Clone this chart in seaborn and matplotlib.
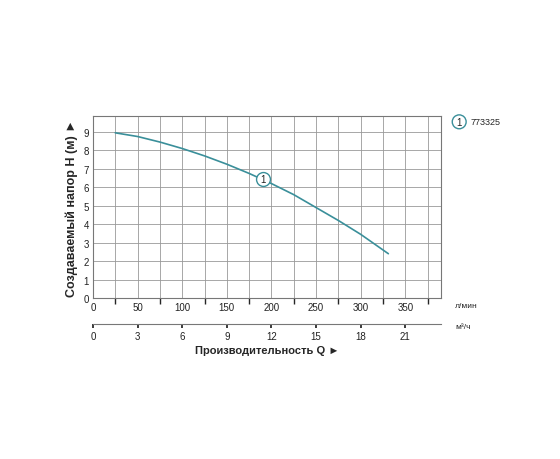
import matplotlib
matplotlib.use("Agg")
import matplotlib.pyplot as plt
import seaborn as sns
import numpy as np

q_lmin = [25, 50, 75, 100, 125, 150, 175, 200, 225, 250, 275, 300, 331]
head_m = [8.95, 8.75, 8.45, 8.1, 7.7, 7.25, 6.75, 6.2, 5.6, 4.9, 4.2, 3.45, 2.4]
x_ticks = [0, 50, 100, 150, 200, 250, 300, 350]
m3h_ticks = [0, 3, 6, 9, 12, 15, 18, 21]
y_ticks = list(range(0, 10))
series_label = "773325"
color = "#3a8f9a"

sns.set_theme(style="white")
plt.rcParams['font.family'] = ['Liberation Sans', 'DejaVu Sans']
fig = plt.figure(figsize=(5.6, 4.6), dpi=100)
ax = fig.add_axes([0.166, 0.35, 0.6215, 0.396])
sns.lineplot(x=q_lmin, y=head_m, ax=ax, color=color, lw=1.2)
ax.set_xlim(0, 390)
ax.set_ylim(0, 9.87)
ax.set_xticks(np.arange(25, 390, 25), minor=True)
ax.set_xticks(x_ticks)
ax.set_yticks(y_ticks)
ax.grid(True, which='both', axis='x', color='#999999', lw=0.6)
ax.grid(True, which='major', axis='y', color='#999999', lw=0.6)
ax.set_axisbelow(True)
for s in ax.spines.values():
    s.set_color('#777777'); s.set_linewidth(0.8)
ax.tick_params(labelsize=7, length=0, pad=3, colors='#222222')
ax.set_ylabel("Создаваемый напор H (м) ►", fontsize=9, fontweight='bold')
# marker on curve
ax.plot([190], [6.45], 'o', ms=10, mfc='white', mec=color, mew=1)
ax.text(190, 6.45, "1", ha='center', va='center', fontsize=7, color='#222222')
ax.text(1.04, -0.04, "л/мин", transform=ax.transAxes, fontsize=6, va='center')

ax2 = ax.twiny()
ax2.xaxis.set_ticks_position('bottom')
ax2.xaxis.set_label_position('bottom')
ax2.spines['bottom'].set_position(('outward', 19))
for k in ['top', 'left', 'right']:
    ax2.spines[k].set_visible(False)
ax2.spines['bottom'].set_color('#777777'); ax2.spines['bottom'].set_linewidth(0.8)
ax2.set_xlim(0, 390 * 3 / 50)
ax2.set_xticks(m3h_ticks)
ax2.tick_params(labelsize=7, length=3, pad=2, colors='#222222', direction='out')
ax2.set_xlabel("Производительность Q ►", fontsize=8, fontweight='bold', labelpad=3)
ax2.text(1.04, -0.155, "м³/ч", transform=ax.transAxes, fontsize=6, va='center')

# legend
fig.text(0.82, 0.733, "1", ha='center', va='center', fontsize=7,
         bbox=dict(boxstyle='circle,pad=0.2', fc='white', ec=color, lw=1))
fig.text(0.84, 0.733, series_label, va='center', fontsize=6.5)
fig.savefig("out.png", dpi=100)
